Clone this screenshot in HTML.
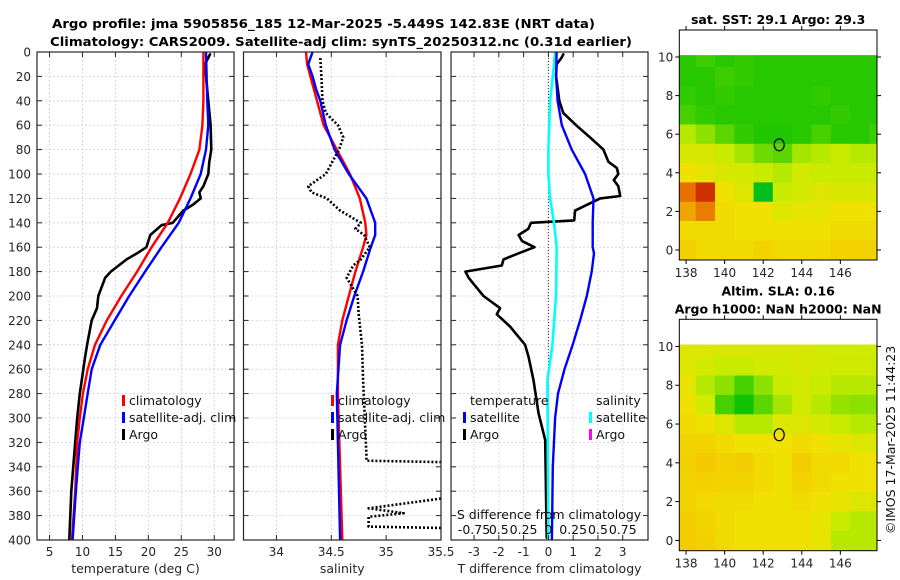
<!DOCTYPE html>
<html><head><meta charset="utf-8"><style>
html,body{margin:0;padding:0;background:#fff}
svg{display:block;font-family:"DejaVu Sans","Liberation Sans",sans-serif}
</style></head><body>
<svg id="fig" width="900" height="580" viewBox="0 0 900 580" xmlns="http://www.w3.org/2000/svg">
<g id="root"></g>
</svg>
<script>
// ---------- DATA ----------
const depthClim = [0,40,60,80,100,120,140,160,180,200,220,240,260,280,300,320,360,400];
const tempClim  = [28.35,28.35,28.2,27.75,26.4,24.8,22.95,20.5,18.3,15.9,13.7,11.9,10.8,10.07,9.6,9.2,8.9,8.4];
const depthSat  = [0,40,60,80,100,120,140,160,180,200,220,240,260,280,300,320,340,360,400];
const tempSat   = [28.75,28.95,29.1,28.75,27.95,26.4,24.6,22.0,19.5,17.1,14.9,12.7,11.4,10.8,10.2,9.6,9.3,9.0,8.5];
const depthArgoT= [2,10,20,40,60,80,90,100,110,115,120,125,130,140,142,150,160,165,170,180,185,200,210,220,240,250,280,300,320,360,400];
const tempArgo  = [29.35,28.6,28.75,29.1,29.45,29.55,29.25,29.1,28.35,27.75,27.95,26.8,25.3,23.7,22.0,20.3,19.7,18.3,16.7,14.3,13.45,12.4,12.2,11.4,10.7,10.4,9.6,9.2,8.9,8.3,8.0];

const depthSalC = [0,10,20,40,60,80,100,120,140,150,160,180,200,220,240,280,400];
const salClim   = [34.27,34.28,34.31,34.37,34.43,34.55,34.67,34.76,34.81,34.82,34.79,34.72,34.66,34.6,34.56,34.56,34.6];
const depthSalS = [0,10,20,30,40,60,80,100,120,140,150,160,180,200,220,240,280,400];
const salSat    = [34.33,34.29,34.33,34.36,34.4,34.45,34.53,34.66,34.82,34.9,34.9,34.86,34.79,34.71,34.64,34.58,34.55,34.58];
const depthSalA = [5,20,40,50,60,70,80,100,110,115,120,130,140,145,150,160,170,175,185,200,215,240,269,290,330,335,337,360,374,378,381,389,391,400];
const salArgo   = [34.4,34.41,34.42,34.45,34.56,34.61,34.57,34.45,34.29,34.32,34.46,34.58,34.77,34.72,34.8,34.85,34.77,34.7,34.64,34.74,34.75,34.78,34.79,34.8,34.82,34.82,36.0,36.0,34.84,35.16,34.84,34.84,36.0,36.0];

const depthDT   = [0,20,40,60,80,100,120,140,160,165,180,200,220,240,260,280,300,340,400];
const dTSat     = [0.33,0.31,0.37,0.54,0.94,1.48,1.82,1.79,1.79,1.84,1.75,1.55,1.28,0.98,0.65,0.39,0.27,0.18,0.14];
const depthDTA  = [2,5,10,20,40,50,60,70,80,90,95,100,105,110,118,120,130,138,140,145,150,155,160,165,170,175,180,185,190,200,210,215,225,240,250,269,296,318,398];
const dTArgo    = [0.6,0.52,0.33,0.31,0.44,0.6,1.12,1.68,2.22,2.42,2.76,2.82,2.64,2.82,2.9,2.09,1.08,1.04,-0.7,-0.81,-1.2,-1.06,-0.56,-1.2,-1.81,-1.88,-3.35,-3.22,-3.02,-2.62,-1.95,-2.08,-1.55,-0.94,-0.8,-0.6,-0.4,-0.13,-0.07];
const depthDS   = [0,10,40,80,100,120,140,160,200,240,269,400];
const dSSat     = [0.068,0.058,0.017,0,0,0.017,0.057,0.084,0.077,0.04,-0.01,0];

const depthTicks = [0,20,40,60,80,100,120,140,160,180,200,220,240,260,280,300,320,340,360,380,400];
const tempTicks = [5,10,15,20,25,30];
const salTicks = [34,34.5,35,35.5];
const salTickLabels = ["34","34.5","35","35.5"];
const dTTicks = [-3,-2,-1,0,1,2,3];
const dTTickLabels = ["-3","-2","-1","0","1","2","3"];
const dSTicks = [-0.75,-0.5,-0.25,0,0.25,0.5,0.75];
const dSTickLabels = ["-0.75","0.5","0.25","0","0.25","0.5","0.75"];

const mapLons = [138,139,140,141,142,143,144,145,146,147,148];
const mapLats = [10,9,8,7,6,5,4,3,2,1,0];
const lonTicks = [138,140,142,144,146];
const latTicks = [0,2,4,6,8,10];
const sstGrid = [
[.45,.47,.45,.46,.45,.45,.45,.45,.45,.45,.45],
[.45,.45,.47,.46,.45,.45,.45,.45,.45,.45,.45],
[.46,.45,.46,.45,.45,.45,.45,.46,.45,.45,.45],
[.48,.46,.45,.45,.45,.45,.45,.45,.46,.45,.45],
[.6,.55,.5,.46,.44,.44,.45,.48,.45,.45,.47],
[.65,.65,.62,.58,.52,.5,.58,.6,.62,.6,.6],
[.7,.68,.65,.64,.62,.6,.64,.62,.62,.62,.62],
[.86,.92,.7,.66,.38,.62,.64,.66,.65,.65,.65],
[.82,.85,.72,.7,.7,.66,.68,.68,.7,.7,.7],
[.72,.72,.72,.7,.7,.7,.7,.7,.72,.72,.72],
[.75,.72,.72,.72,.74,.72,.72,.72,.74,.74,.74]];
const slaGrid = [
[.66,.66,.65,.65,.65,.65,.65,.64,.64,.64,.64],
[.66,.64,.62,.62,.64,.64,.65,.64,.63,.63,.63],
[.68,.6,.55,.48,.55,.62,.64,.62,.6,.6,.6],
[.7,.64,.48,.42,.5,.58,.64,.6,.56,.55,.55],
[.72,.7,.66,.6,.6,.66,.66,.64,.62,.6,.6],
[.74,.74,.72,.7,.7,.7,.72,.7,.68,.66,.66],
[.75,.77,.75,.76,.72,.7,.76,.72,.72,.7,.7],
[.74,.75,.74,.74,.72,.7,.74,.72,.7,.7,.7],
[.74,.73,.72,.72,.7,.7,.72,.7,.68,.66,.66],
[.76,.74,.72,.7,.7,.7,.7,.68,.62,.6,.6],
[.76,.75,.72,.7,.7,.7,.7,.68,.6,.6,.6]];
const argoLon = 142.83, argoLat = 5.45;

// ---------- HELPERS ----------
const NS="http://www.w3.org/2000/svg";
const root=document.getElementById('root');
function mk(tag,attrs,parent){const e=document.createElementNS(NS,tag);for(const k in attrs)e.setAttribute(k,attrs[k]);(parent||root).appendChild(e);return e;}
function txt(s,attrs,parent){const e=mk('text',attrs,parent);e.textContent=s;return e;}

const Y0=52,Y1=540;
const yD=d=>Y0+(d/400)*(Y1-Y0);
const P1={x0:37,x1:234,lo:3.1,hi:33};
const P2={x0:243.5,x1:441,lo:33.7,hi:35.5};
const P3={x0:451,x1:648,lo:-3.93,hi:4.02};
const sx=(P,v)=>P.x0+(v-P.lo)/(P.hi-P.lo)*(P.x1-P.x0);
const xS3=v=>sx(P3,0)+v*99.2;

function panel(P,name,xticks,xlabels,xtitle){
  const g=mk('g',{});
  
  
  depthTicks.forEach(d=>{const l=mk('line',{x1:P.x0,x2:P.x1,y1:yD(d),y2:yD(d),stroke:'#c8cfe8','stroke-width':0.8,'stroke-dasharray':'2,2'},g);});
  xticks.forEach(v=>{const l=mk('line',{x1:sx(P,v),x2:sx(P,v),y1:Y0,y2:Y1,stroke:'#c8cfe8','stroke-width':0.8,'stroke-dasharray':'2,2'},g);});
  const cp=mk('clipPath',{id:'clip-'+name},g);mk('rect',{x:P.x0,y:Y0,width:P.x1-P.x0,height:Y1-Y0},cp);
  const plot=mk('g',{'clip-path':'url(#clip-'+name+')'},g);
  const fr=mk('rect',{x:P.x0,y:Y0,width:P.x1-P.x0,height:Y1-Y0,fill:'none',stroke:'#262626','stroke-width':1.2},g);
  
  depthTicks.forEach(d=>{mk('line',{x1:P.x0,x2:P.x0+5,y1:yD(d),y2:yD(d),stroke:'#262626'},g);mk('line',{x1:P.x1-5,x2:P.x1,y1:yD(d),y2:yD(d),stroke:'#262626'},g);});
  xticks.forEach((v,i)=>{
    mk('line',{x1:sx(P,v),x2:sx(P,v),y1:Y1,y2:Y1-5,stroke:'#262626'},g);
    mk('line',{x1:sx(P,v),x2:sx(P,v),y1:Y0,y2:Y0+5,stroke:'#262626'},g);
    const t=txt(xlabels[i],{x:sx(P,v),y:Y1+16,'font-size':12,'text-anchor':'middle',fill:'#262626'},g);
    
  });
  const tt=txt(xtitle,{x:(P.x0+P.x1)/2,y:Y1+33,'font-size':12.5,'text-anchor':'middle',fill:'#262626'},g);
  
  return {g,plot};
}
function line(parent,xs,ds,fx,color,w,dash,name){
  const pts=xs.map((v,i)=>fx(v).toFixed(1)+','+yD(ds[i]).toFixed(1)).join(' ');
  const p=mk('polyline',{points:pts,fill:'none',stroke:color,'stroke-width':w,'stroke-linejoin':'round','stroke-linecap':dash?'butt':'round'},parent);
  if(dash)p.setAttribute('stroke-dasharray',dash);
  
  
  return p;
}
function legend(parent,x,y,color,label,name){
  const r=mk('rect',{x:x,y:y-10,width:3,height:11,fill:color},parent);
  
  const t=txt(label,{x:x+7,y:y,'font-size':12.5,fill:'#111'},parent);
  
}

// ---------- TITLES ----------
const t1=txt('Argo profile: jma 5905856_185 12-Mar-2025 -5.449S 142.83E (NRT data)',{x:52,y:28,'font-size':12.5,'font-weight':'bold',textLength:543,lengthAdjust:'spacingAndGlyphs',fill:'#000'});

const t2=txt('Climatology: CARS2009. Satellite-adj clim: synTS_20250312.nc (0.31d earlier)',{x:50,y:46,'font-size':12.5,'font-weight':'bold',textLength:582,lengthAdjust:'spacingAndGlyphs',fill:'#000'});


// ---------- PANEL 1 ----------
const A=panel(P1,'temperature-panel',tempTicks,tempTicks.map(String),'temperature (deg C)');
depthTicks.forEach(d=>{const t=txt(String(d),{x:31,y:yD(d)+4.5,'font-size':12,'text-anchor':'end',fill:'#262626'},A.g);});
line(A.plot,tempArgo,depthArgoT,v=>sx(P1,v),'#000',2.6,null,'argo-temperature-line');
line(A.plot,tempClim,depthClim,v=>sx(P1,v),'#ff0000',2.4,null,'climatology-temperature-line');
line(A.plot,tempSat,depthSat,v=>sx(P1,v),'#0000ff',2.4,null,'satellite-temperature-line');
legend(A.g,122,405,'#ff0000','climatology','legend-climatology');
legend(A.g,122,422,'#0000ff','satellite-adj. clim','legend-satellite');
legend(A.g,122,439,'#000','Argo','legend-argo');

// ---------- PANEL 2 ----------
const B=panel(P2,'salinity-panel',salTicks,salTickLabels,'salinity');
line(B.plot,salClim,depthSalC,v=>sx(P2,v),'#ff0000',2.4,null,'climatology-salinity-line');
line(B.plot,salSat,depthSalS,v=>sx(P2,v),'#0000ff',2.4,null,'satellite-salinity-line');
line(B.plot,salArgo,depthSalA,v=>sx(P2,v),'#000',2.6,'2,2','argo-salinity-line');
legend(B.g,331,405,'#ff0000','climatology','legend-climatology');
legend(B.g,331,422,'#0000ff','satellite-adj. clim','legend-satellite');
legend(B.g,331,439,'#000','Argo','legend-argo');

// ---------- PANEL 3 ----------
const C=panel(P3,'difference-panel',dTTicks,dTTickLabels,'T difference from climatology');
const zl=mk('line',{x1:sx(P3,0),x2:sx(P3,0),y1:Y0,y2:Y1,stroke:'#333','stroke-width':1,'stroke-dasharray':'1,2'},C.plot);

line(C.plot,dTArgo,depthDTA,v=>sx(P3,v),'#000',2.6,null,'argo-temperature-diff-line');
line(C.plot,dSSat,depthDS,xS3,'#00ffff',2.6,null,'satellite-salinity-diff-line');
line(C.plot,dTSat,depthDT,v=>sx(P3,v),'#0000ff',2.4,null,'satellite-temperature-diff-line');
const lt=txt('temperature',{x:470,y:405,'font-size':12.5,fill:'#111'},C.g);
const ls=txt('salinity',{x:596,y:405,'font-size':12.5,fill:'#111'},C.g);
legend(C.g,463,422,'#0000ff','satellite','legend-t-satellite');
legend(C.g,463,439,'#000','Argo','legend-t-argo');
legend(C.g,589,422,'#00ffff','satellite','legend-s-satellite');
legend(C.g,589,439,'#ff00ff','Argo','legend-s-argo');
const st=txt('S difference from climatology',{x:549,y:519,'font-size':12.5,'text-anchor':'middle',fill:'#111'},C.g);

dSTicks.forEach((v,i)=>{const t=txt(dSTickLabels[i],{x:xS3(v),y:534,'font-size':12.5,'text-anchor':'middle',fill:'#111'},C.g);});

// ---------- MAPS ----------
function cmap(v){
  const s=[[0,[0,0,140]],[0.25,[0,200,220]],[0.4,[0,190,0]],[0.45,[40,200,0]],[0.55,[140,225,0]],[0.62,[200,235,0]],[0.7,[240,225,0]],[0.8,[245,190,0]],[0.9,[220,60,0]],[1,[160,0,0]]];
  for(let i=1;i<s.length;i++){if(v<=s[i][0]){const f=(v-s[i-1][0])/(s[i][0]-s[i-1][0]);const a=s[i-1][1],b=s[i][1];return 'rgb('+a.map((c,k)=>Math.round(c+(b[k]-c)*f)).join(',')+')';}}
  return 'rgb(160,0,0)';
}
function map(M,grid,name,titles){
  const g=mk('g',{});
  
  
  const lx=v=>M.x0+(v-M.lonLo)/(M.lonHi-M.lonLo)*(M.x1-M.x0);
  const ly=v=>M.y1-(v-M.latLo)/(M.latHi-M.latLo)*(M.y1-M.y0);
  const cp=mk('clipPath',{id:'clip-'+name},g);
  mk('rect',{x:M.x0,y:ly(10.1),width:M.x1-M.x0,height:M.y1-ly(10.1)},cp);
  const cells=mk('g',{'clip-path':'url(#clip-'+name+')'},g);
  mapLats.forEach((la,r)=>mapLons.forEach((lo,c)=>{
    const x=lx(lo-0.5),y=ly(la+0.5);
    const rc=mk('rect',{x:x.toFixed(1),y:y.toFixed(1),width:(lx(lo+0.5)-x+0.6).toFixed(1),height:(ly(la-0.5)-y+0.6).toFixed(1),fill:cmap(grid[r][c])},cells);
    
    
  }));
  const fr=mk('rect',{x:M.x0,y:M.y0,width:M.x1-M.x0,height:M.y1-M.y0,fill:'none',stroke:'#000','stroke-width':1},g);
  
  const ci=mk('ellipse',{cx:lx(argoLon),cy:ly(argoLat),rx:5,ry:6,fill:'none',stroke:'#000','stroke-width':1.2},g);
  
  lonTicks.forEach(v=>{mk('line',{x1:lx(v),x2:lx(v),y1:M.y1,y2:M.y1+4,stroke:'#000'},g);mk('line',{x1:lx(v),x2:lx(v),y1:M.y0,y2:M.y0-4,stroke:'#000'},g);
    const t=txt(String(v),{x:lx(v),y:M.y1+17,'font-size':12,'text-anchor':'middle',fill:'#262626'},g);});
  latTicks.forEach(v=>{mk('line',{x1:M.x0,x2:M.x0-4,y1:ly(v),y2:ly(v),stroke:'#000'},g);mk('line',{x1:M.x1,x2:M.x1+4,y1:ly(v),y2:ly(v),stroke:'#000'},g);
    const t=txt(String(v),{x:M.x0-6,y:ly(v)+4.5,'font-size':12,'text-anchor':'end',fill:'#262626'},g);});
  titles.forEach((s,i)=>{const t=txt(s,{x:(M.x0+M.x1)/2,y:M.y0-6-(titles.length-1-i)*18,'font-size':12.5,'font-weight':'bold','text-anchor':'middle',fill:'#000'},g);});
}
map({x0:679.3,x1:877,y0:30,y1:260,lonLo:137.65,lonHi:147.9,latLo:-0.52,latHi:11.4},sstGrid,'sst-map',['sat. SST: 29.1 Argo: 29.3']);
map({x0:679.3,x1:877,y0:319.3,y1:550.7,lonLo:137.65,lonHi:147.9,latLo:-0.53,latHi:11.4},slaGrid,'sla-map',['Altim. SLA: 0.16','Argo h1000: NaN h2000: NaN']);

const cr=txt('©IMOS 17-Mar-2025 11:44:23',{x:0,y:0,'font-size':12.5,'text-anchor':'middle',fill:'#111',transform:'translate(895,440) rotate(-90)'});

</script>
</body></html>
